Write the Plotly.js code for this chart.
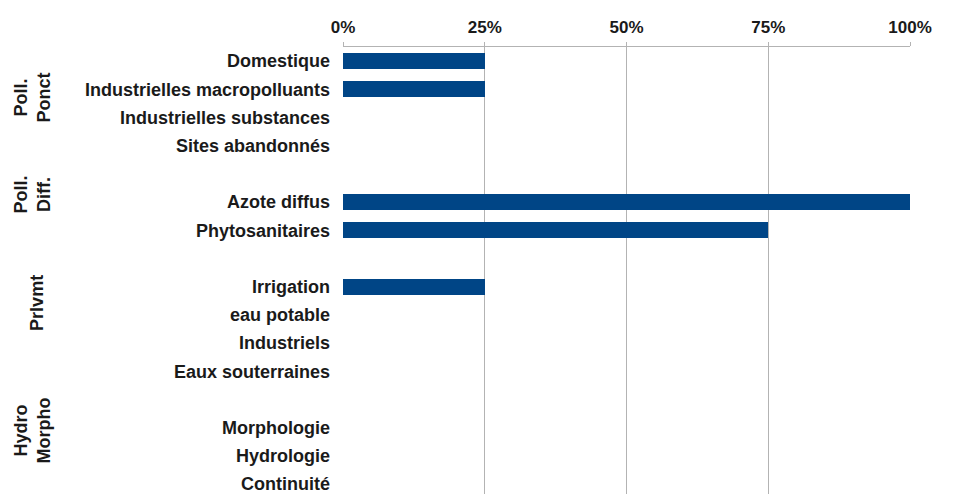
<!DOCTYPE html>
<html>
<head>
<meta charset="utf-8">
<script src="https://cdn.plot.ly/plotly-3.0.1.min.js"></script>
<style>
  html, body { margin: 0; padding: 0; background: #ffffff; }
  #chart { width: 953px; height: 494px; }
</style>
</head>
<body>
<div id="chart"></div>
<script>
// Categories (empty strings are the gaps between groups)
const categories = [
  "Domestique", "Industrielles macropolluants", "Industrielles substances", "Sites abandonnés",
  "",
  "Azote diffus", "Phytosanitaires",
  "",
  "Irrigation", "eau potable", "Industriels", "Eaux souterraines",
  "",
  "Morphologie", "Hydrologie", "Continuité"
];
// Share of water bodies (fraction), null where no bar
const values = [
  0.25, 0.25, null, null,
  null,
  1.00, 0.75,
  null,
  0.25, null, null, null,
  null,
  null, null, null
];
const xTickVals = [0, 0.25, 0.5, 0.75, 1];
const xTickText = ["0%", "25%", "50%", "75%", "100%"];
const groupLabels = ["Poll.<br>Ponct", "Poll.<br>Diff.", "Prlvmt", "Hydro<br>Morpho"];

const idx = categories.map((c, i) => i);

const FONT = "Liberation Sans, Arial, sans-serif";
const TXT = "#1a1a1a";

const trace = {
  type: "bar",
  orientation: "h",
  x: values,
  y: idx,
  width: 0.56,
  marker: { color: "#004586", line: { width: 0 } },
  hoverinfo: "skip"
};

const layout = {
  width: 953,
  height: 494,
  margin: { l: 343, r: 43, t: 47, b: 0, pad: 0 },
  paper_bgcolor: "#ffffff",
  plot_bgcolor: "#ffffff",
  showlegend: false,
  bargap: 0,
  xaxis: {
    side: "top",
    range: [0, 1],
    tickvals: xTickVals,
    ticktext: xTickText,
    showgrid: true,
    gridcolor: "#b3b3b3",
    gridwidth: 1,
    zeroline: false,
    showline: true,
    linecolor: "#b3b3b3",
    linewidth: 1,
    ticks: "outside",
    ticklen: 4,
    tickcolor: "#b3b3b3",
    ticklabelstandoff: 2,
    tickfont: { family: FONT, size: 17, color: TXT, weight: "bold" },
    fixedrange: true
  },
  yaxis: {
    range: [15.35, -0.5],
    tickvals: idx,
    ticktext: categories,
    showgrid: false,
    zeroline: false,
    showline: false,
    ticks: "",
    ticklabelstandoff: 12,
    ticklabeloverflow: "allow",
    tickfont: { family: FONT, size: 18, color: TXT, weight: "bold" },
    fixedrange: true
  },
  annotations: [
    { text: groupLabels[0], xref: "paper", yref: "y", x: -0.548, y: 1.28 },
    { text: groupLabels[1], xref: "paper", yref: "y", x: -0.548, y: 4.72 },
    { text: groupLabels[2], xref: "paper", yref: "y", x: -0.540, y: 8.58 },
    { text: groupLabels[3], xref: "paper", yref: "y", x: -0.548, y: 13.09 }
  ].map(a => Object.assign(a, {
    showarrow: false,
    textangle: -90,
    align: "center",
    xanchor: "center",
    yanchor: "middle",
    font: { family: FONT, size: 18, color: TXT, weight: "bold" }
  }))
};

Plotly.newPlot("chart", [trace], layout, { displayModeBar: false, staticPlot: true });
</script>
</body>
</html>
